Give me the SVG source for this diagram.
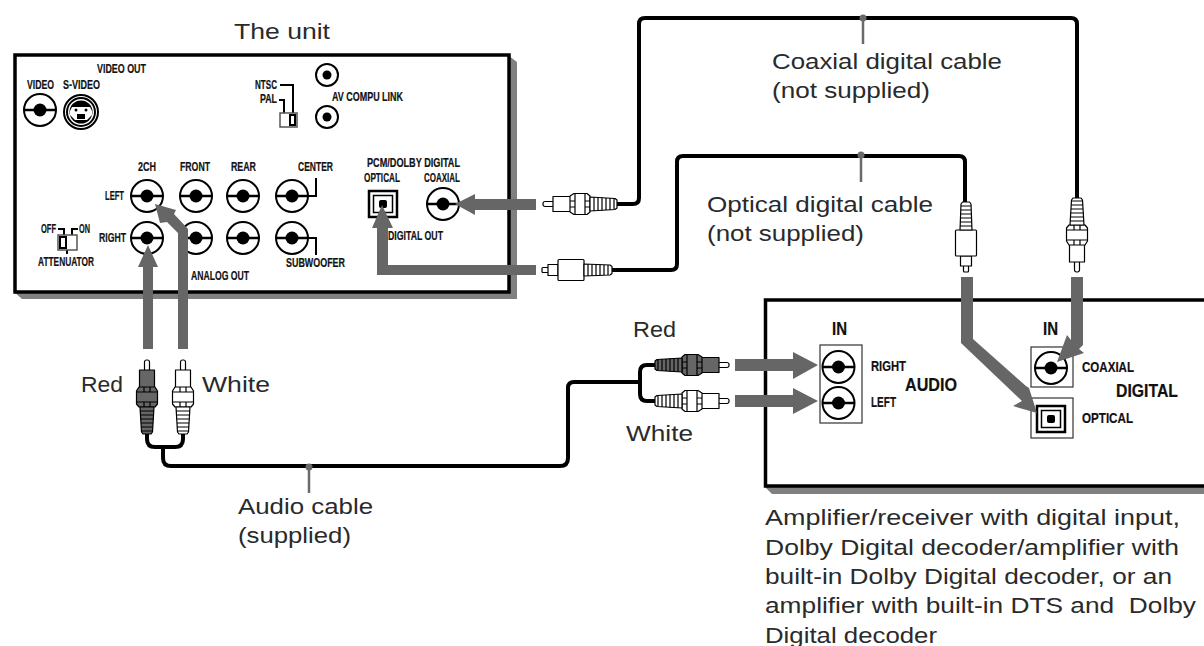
<svg xmlns="http://www.w3.org/2000/svg" xmlns:xlink="http://www.w3.org/1999/xlink" width="1204" height="646" viewBox="0 0 1204 646">
<style>
.t{font-family:"Liberation Sans",Arial,sans-serif;font-size:22.5px;fill:#2a2a2a}
.c{font-family:"Liberation Sans",Arial,sans-serif;font-weight:bold;font-size:12px;fill:#111;stroke:#111;stroke-width:.2}
.s{font-size:14px}
.l{font-size:19px}
.box{fill:#fff;stroke:#000;stroke-width:3.5}
.sh{fill:#808080}
.cable{fill:none;stroke:#000;stroke-width:4;stroke-linejoin:round}
.thin{fill:none;stroke:#000;stroke-width:2}
.stem{stroke:#6a6a6a;stroke-width:2.5}
.dot{fill:#6a6a6a}
.arrow{fill:#666}
.j{fill:#fff;stroke:#000;stroke-width:2}
.p{stroke:#000;stroke-width:1.2;stroke-linejoin:round}
.rib{stroke:#000;stroke-width:1.2;fill:none}
.white{fill:#fff}
.dark{fill:#666}
</style>
<defs>
<g id="jack"><circle class="j" r="16"/><path d="M-16 0H16" stroke="#000" stroke-width="2.5"/><circle r="6.5" fill="#000"/></g>
<g id="smalljack"><circle class="j" r="11"/><circle r="4.5" fill="#000"/></g>
<g id="optport"><rect x="-14" y="-13" width="28" height="26" fill="#fff" stroke="#000" stroke-width="2.5"/><rect x="-9.5" y="-8.5" width="19" height="17" fill="#fff" stroke="#000" stroke-width="1.5"/><rect x="-4" y="-4" width="8" height="8" rx="2" fill="#000"/></g>
<g id="rca">
<rect x="0" y="-2.5" width="11" height="5" rx="2" fill="#fff" stroke="#000" stroke-width="1.200"/>
<rect class="p" x="10" y="-7.5" width="18" height="15"/>
<path class="p" d="M27-8L31-10.5H44L47-8V8L44 10.5H31L27 8Z"/>
<path class="rib" d="M27-3H32V3H27M47-3H42V3H47M32-10V-3M32 3V10M42-10V-3M42 3V10"/>
<path class="p" d="M47-7L72-5.5L74-4V4L72 5.5L47 7Z"/>
<path class="rib" d="M51-7V7M55-6.5V6.500M59-6.500V6.500M63-6V6M67-6V6M71-5.500V5.500"/>
</g>
<g id="optplug">
<rect class="p" x="0" y="-2.500" width="7" height="5" rx="1"/>
<rect class="p" x="6" y="-5.500" width="10" height="11"/>
<rect class="p" x="16" y="-10.500" width="26" height="21" rx="1"/>
<path class="p" d="M42-6L68-5L70-3.500V3.500L68 5L42 6Z"/>
<path class="rib" d="M46-6V6M50-6V6M54-5.500V5.500M58-5.500V5.500M62-5V5M66-5V5"/>
</g>
</defs>

<g id="unit">
<path class="sh" d="M14 292L22 299H517V62L509 56V292Z"/>
<rect class="box" x="15" y="55" width="494" height="237"/>
<text class="t" x="234" y="39" textLength="96" lengthAdjust="spacingAndGlyphs">The unit</text>
<text class="c" x="97" y="73" textLength="49" lengthAdjust="spacingAndGlyphs">VIDEO OUT</text>
<text class="c" x="27" y="89" textLength="27" lengthAdjust="spacingAndGlyphs">VIDEO</text>
<text class="c" x="63" y="89" textLength="37" lengthAdjust="spacingAndGlyphs">S-VIDEO</text>
<use xlink:href="#jack" href="#jack" transform="translate(40 110)"/>
<g id="svideo"><circle class="j" cx="81" cy="112" r="17"/><circle cx="81" cy="112" r="14" fill="#fff" stroke="#000" stroke-width="2"/><circle cx="81" cy="112" r="11.500" fill="#000"/><path d="M72 107H90L92 111V115L87 120H75L70 115V111Z" fill="#fff"/><circle cx="76" cy="110" r="1.500"/><circle cx="86" cy="110" r="1.500"/><rect x="77" y="114" width="8" height="5"/></g>
<text class="c" x="255" y="89" textLength="22" lengthAdjust="spacingAndGlyphs">NTSC</text>
<text class="c" x="260" y="103" textLength="17" lengthAdjust="spacingAndGlyphs">PAL</text>
<path class="thin" d="M280 85H293V113M279 100H284V113"/>
<rect x="280" y="113" width="17" height="14" fill="#fff" stroke="#555" stroke-width="1.500"/>
<rect x="290" y="115" width="5" height="10" fill="#fff" stroke="#000" stroke-width="2"/>
<use href="#smalljack" transform="translate(327 75)"/>
<use href="#smalljack" transform="translate(327 117)"/>
<text class="c" x="332" y="101" textLength="71" lengthAdjust="spacingAndGlyphs">AV COMPU LINK</text>
<text class="c" x="138" y="171" textLength="18" lengthAdjust="spacingAndGlyphs">2CH</text>
<text class="c" x="180" y="171" textLength="30" lengthAdjust="spacingAndGlyphs">FRONT</text>
<text class="c" x="231" y="171" textLength="25" lengthAdjust="spacingAndGlyphs">REAR</text>
<text class="c" x="298" y="171" textLength="35" lengthAdjust="spacingAndGlyphs">CENTER</text>
<text class="c" x="105" y="200" textLength="19" lengthAdjust="spacingAndGlyphs">LEFT</text>
<text class="c" x="99" y="242" textLength="27" lengthAdjust="spacingAndGlyphs">RIGHT</text>
<use href="#jack" transform="translate(147 196)"/>
<use href="#jack" transform="translate(196 196)"/>
<use href="#jack" transform="translate(243 196)"/>
<use href="#jack" transform="translate(292 196)"/>
<use href="#jack" transform="translate(147 238)"/>
<use href="#jack" transform="translate(196 238)"/>
<use href="#jack" transform="translate(243 238)"/>
<use href="#jack" transform="translate(292 238)"/>
<path class="thin" d="M308 196H316V178M308 238H316V255"/>
<text class="c" x="286" y="267" textLength="59" lengthAdjust="spacingAndGlyphs">SUBWOOFER</text>
<text class="c" x="191" y="280" textLength="58" lengthAdjust="spacingAndGlyphs">ANALOG OUT</text>
<text class="c" x="41" y="233" textLength="15" lengthAdjust="spacingAndGlyphs">OFF</text>
<text class="c" x="79" y="233" textLength="11" lengthAdjust="spacingAndGlyphs">ON</text>
<path class="thin" d="M58 229H64V235M78 229H72V235M67 250V254"/>
<rect x="58" y="235" width="19" height="15" fill="#fff" stroke="#555" stroke-width="1.500"/>
<rect x="60" y="237" width="6" height="11" fill="#fff" stroke="#000" stroke-width="2"/>
<text class="c" x="38" y="266" textLength="56" lengthAdjust="spacingAndGlyphs">ATTENUATOR</text>
<text class="c" x="367" y="167" textLength="93" lengthAdjust="spacingAndGlyphs">PCM/DOLBY DIGITAL</text>
<text class="c" x="364" y="182" textLength="36" lengthAdjust="spacingAndGlyphs">OPTICAL</text>
<text class="c" x="424" y="182" textLength="36" lengthAdjust="spacingAndGlyphs">COAXIAL</text>
<use href="#optport" transform="translate(383 204)"/>
<use href="#jack" transform="translate(443 204)"/>
<text class="c" x="388" y="240" textLength="55" lengthAdjust="spacingAndGlyphs">DIGITAL OUT</text>
</g>

<g id="receiver">
<path class="sh" d="M764 486L772 494H1204V486Z"/>
<path d="M1204 300H765.500V486H1204" fill="#fff" stroke="#000" stroke-width="3.500"/>
<text class="c l" x="832" y="335" textLength="15" lengthAdjust="spacingAndGlyphs">IN</text>
<rect x="820" y="345" width="42" height="78" fill="#fff" stroke="#333" stroke-width="1.200"/>
<use href="#jack" transform="translate(838.500 367)"/>
<use href="#jack" transform="translate(838.500 403)"/>
<text class="c s" x="871" y="371" textLength="35" lengthAdjust="spacingAndGlyphs">RIGHT</text>
<text class="c s" x="871" y="407" textLength="25" lengthAdjust="spacingAndGlyphs">LEFT</text>
<text class="c l" x="905" y="391" textLength="52" lengthAdjust="spacingAndGlyphs">AUDIO</text>
<text class="c l" x="1043" y="335" textLength="15" lengthAdjust="spacingAndGlyphs">IN</text>
<rect x="1031" y="347" width="42" height="40" fill="#fff" stroke="#333" stroke-width="1.200"/>
<use href="#jack" transform="translate(1051 368)"/>
<rect x="1031" y="398" width="42" height="40" fill="#fff" stroke="#333" stroke-width="1.200"/>
<use href="#optport" transform="translate(1051 419)"/>
<text class="c s" x="1082" y="372" textLength="52" lengthAdjust="spacingAndGlyphs">COAXIAL</text>
<text class="c s" x="1082" y="423" textLength="51" lengthAdjust="spacingAndGlyphs">OPTICAL</text>
<text class="c l" x="1116" y="397" textLength="62" lengthAdjust="spacingAndGlyphs">DIGITAL</text>
<text class="t" x="765" y="525" textLength="415" lengthAdjust="spacingAndGlyphs">Amplifier/receiver with digital input,</text>
<text class="t" x="765" y="555" textLength="414" lengthAdjust="spacingAndGlyphs">Dolby Digital decoder/amplifier with</text>
<text class="t" x="765" y="584" textLength="407" lengthAdjust="spacingAndGlyphs">built-in Dolby Digital decoder, or an</text>
<text class="t" x="765" y="613" textLength="431" lengthAdjust="spacingAndGlyphs" xml:space="preserve">amplifier with built-in DTS and  Dolby</text>
<text class="t" x="765" y="643" textLength="172" lengthAdjust="spacingAndGlyphs">Digital decoder</text>
</g>

<g id="connectors">
<path class="cable" d="M617 204H633Q639 204 639 198V24Q639 18 645 18H1071Q1077 18 1077 24V198"/>
<path class="cable" d="M612 270H671Q677 270 677 264V162Q677 156 683 156H959Q965 156 965 162V203"/>
<path class="cable" d="M147 433V439Q147 447 155 447H175Q183 447 183 439V433M163 447V458Q163 466 171 466H560Q568 466 568 458V388Q568 382 574 382H639M655 365H647Q640 365 640 372V394Q640 401 647 401H655"/>
<circle class="dot" cx="863" cy="18" r="3.500"/><path class="stem" d="M863 18V44"/>
<circle class="dot" cx="861" cy="155" r="3.500"/><path class="stem" d="M861 155V182"/>
<circle class="dot" cx="309" cy="467" r="3.500"/><path class="stem" d="M309 467V493"/>
<path class="arrow" d="M536 199H475V194L455 204L475 215V210H536Z"/>
<path class="arrow" d="M536 265H388V228H393L382 205L372 228H377V275H536Z"/>
<path class="arrow" d="M143 349V267H138L148 245L158 267H153V349Z"/>
<path class="arrow" d="M178 349V233L167 222L160 223L155 204L176 210L174 214L188 229V349Z"/>
<path class="arrow" d="M735 359H793V352L818 365L793 379V371H735Z"/>
<path class="arrow" d="M735 395H793V388L818 401L793 414V407H735Z"/>
<path class="arrow" d="M1071 277H1083V345L1079 349L1084 353L1057 362L1067 335L1071 340Z"/>
<path class="arrow" d="M961 277H973V339L1026 386L1029 388L1037 413L1013 406L1022 401L961 343Z"/>
</g>

<g id="plug-coax-out" class="white"><use href="#rca" transform="translate(543 204)"/></g>
<g id="plug-opt-out" class="white"><use href="#optplug" transform="translate(542 270)"/></g>
<g id="plug-opt-in" class="white"><use href="#optplug" transform="translate(966 272) rotate(-90)"/></g>
<g id="plug-coax-in" class="white"><use href="#rca" transform="translate(1077 272) rotate(-90)"/></g>
<g id="plug-red-l" class="dark"><use href="#rca" transform="translate(147 360) rotate(90)"/></g>
<g id="plug-white-l" class="white"><use href="#rca" transform="translate(183 360) rotate(90)"/></g>
<g id="plug-red-r" class="dark"><use href="#rca" transform="translate(729 365) scale(-1 1)"/></g>
<g id="plug-white-r" class="white"><use href="#rca" transform="translate(729 401) scale(-1 1)"/></g>

<g id="labels">
<text class="t" x="772" y="69" textLength="230" lengthAdjust="spacingAndGlyphs">Coaxial digital cable</text>
<text class="t" x="772" y="98" textLength="158" lengthAdjust="spacingAndGlyphs">(not supplied)</text>
<text class="t" x="707" y="212" textLength="226" lengthAdjust="spacingAndGlyphs">Optical digital cable</text>
<text class="t" x="707" y="241" textLength="157" lengthAdjust="spacingAndGlyphs">(not supplied)</text>
<text class="t" x="238" y="514" textLength="135" lengthAdjust="spacingAndGlyphs">Audio cable</text>
<text class="t" x="238" y="543" textLength="113" lengthAdjust="spacingAndGlyphs">(supplied)</text>
<text class="t" x="81" y="392" textLength="42" lengthAdjust="spacingAndGlyphs">Red</text>
<text class="t" x="202" y="392" textLength="68" lengthAdjust="spacingAndGlyphs">White</text>
<text class="t" x="633" y="337" textLength="43" lengthAdjust="spacingAndGlyphs">Red</text>
<text class="t" x="626" y="441" textLength="67" lengthAdjust="spacingAndGlyphs">White</text>
</g>
</svg>
